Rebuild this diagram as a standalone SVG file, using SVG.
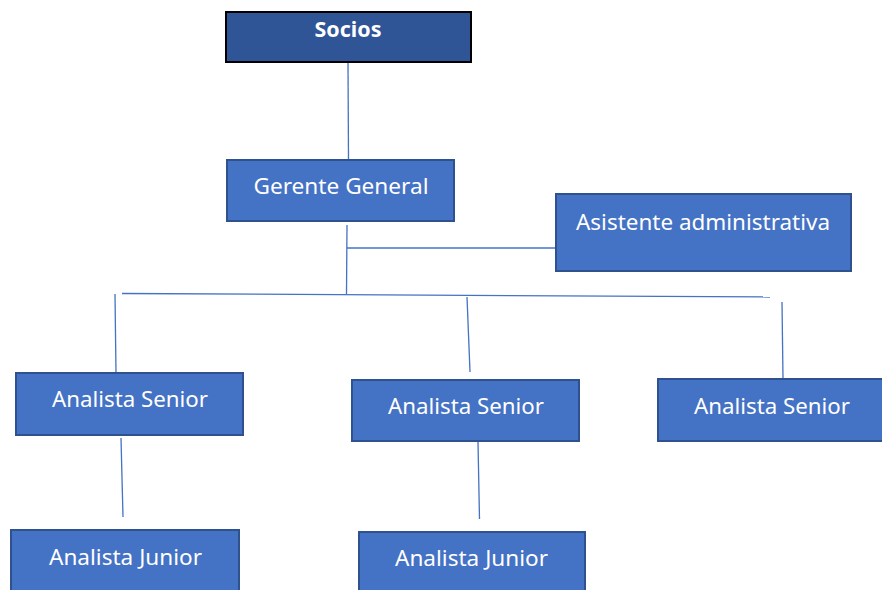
<svg xmlns="http://www.w3.org/2000/svg" width="882" height="590" viewBox="0 0 882 590">
<style>
.box{fill:#4472C4;stroke:#2F528F;stroke-width:2}
.top{fill:#2F5597;stroke:#000;stroke-width:2}
.t{font-family:"Noto Sans","Open Sans","Liberation Sans",sans-serif;font-size:22px;fill:#fff}
.b{font-weight:bold}
.c line{stroke:#4472C4;stroke-width:1.3}
</style>
<rect width="882" height="590" fill="#fff"/>
<g class="c" id="connectors">
<line x1="348" y1="62" x2="348.5" y2="160"/>
<line x1="347" y1="225" x2="346.5" y2="294"/>
<line x1="347" y1="248" x2="556" y2="248"/>
<line x1="122" y1="293.5" x2="770" y2="297"/>
<line x1="115" y1="294" x2="116" y2="373"/>
<line x1="467" y1="297" x2="470" y2="372"/>
<line x1="782" y1="302" x2="783" y2="379"/>
<line x1="121" y1="438" x2="123" y2="517"/>
<line x1="478" y1="442" x2="479.5" y2="519"/>
</g>
<g id="socios"><rect class="top" x="226" y="12" width="245" height="50"/><text class="t b" x="348" y="37" text-anchor="middle" textLength="67" lengthAdjust="spacingAndGlyphs">Socios</text></g>
<g id="gerente"><rect class="box" x="227" y="160" width="227" height="61"/><text class="t" x="341" y="194" text-anchor="middle" textLength="175" lengthAdjust="spacingAndGlyphs">Gerente General</text></g>
<g id="asistente"><rect class="box" x="556" y="194" width="295" height="77"/><text class="t" x="703" y="230" text-anchor="middle" textLength="254" lengthAdjust="spacingAndGlyphs">Asistente administrativa</text></g>
<g id="senior1"><rect class="box" x="16" y="373" width="227" height="62"/><text class="t" x="130" y="407" text-anchor="middle" textLength="156" lengthAdjust="spacingAndGlyphs">Analista Senior</text></g>
<g id="senior2"><rect class="box" x="352" y="380" width="227" height="61"/><text class="t" x="466" y="414" text-anchor="middle" textLength="156" lengthAdjust="spacingAndGlyphs">Analista Senior</text></g>
<g id="senior3"><rect class="box" x="658" y="379" width="228" height="62"/><text class="t" x="772" y="414" text-anchor="middle" textLength="156" lengthAdjust="spacingAndGlyphs">Analista Senior</text></g>
<g id="junior1"><rect class="box" x="11" y="530" width="228" height="64"/><text class="t" x="125.5" y="565" text-anchor="middle" textLength="153" lengthAdjust="spacingAndGlyphs">Analista Junior</text></g>
<g id="junior2"><rect class="box" x="359" y="532" width="226" height="62"/><text class="t" x="471.5" y="566" text-anchor="middle" textLength="153" lengthAdjust="spacingAndGlyphs">Analista Junior</text></g>
</svg>
